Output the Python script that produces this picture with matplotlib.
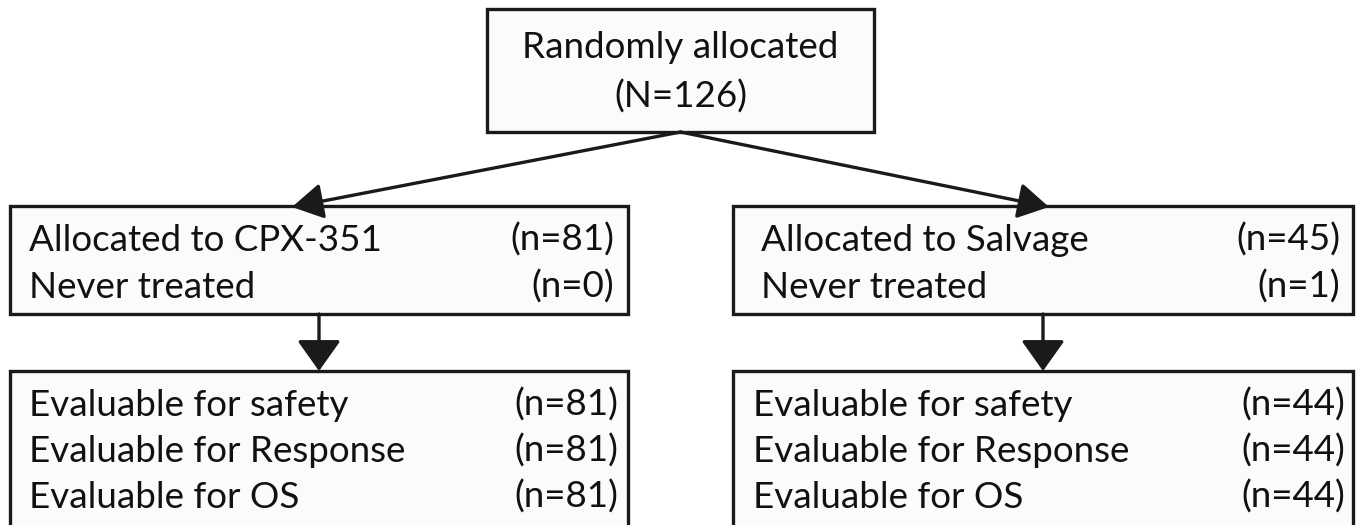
import matplotlib.pyplot as plt
from matplotlib.patches import Rectangle

# chart content
top_lines = ["Randomly allocated", "(N=126)"]
arms = ["CPX-351", "Salvage"]
allocated_n = [81, 45]
never_treated_n = [0, 1]
eval_labels = ["Evaluable for safety", "Evaluable for Response", "Evaluable for OS"]
eval_n = [[81, 81, 81], [44, 44, 44]]

# layout in pixel units (y grows downward)
W, H = 1358, 525
FONT = "Lato"
FS = 26.5
EDGE = "#1a1a1a"
FACE = "#fbfbfb"
LW = 2.4

top_box = (487, 9, 874, 132)
mid_boxes = [(10, 206, 628, 314), (733, 206, 1353, 314)]
bot_boxes = [(10, 371, 628, 560), (733, 371, 1353, 560)]
mid_text_left = [29, 761]
mid_text_right = [614, 1340]
bot_text_left = [29, 753]
bot_text_right = [618, 1345]
mid_baselines = [251, 298]
bot_baselines = [416, 462, 508]
diag_tips = [(292, 207), (1049, 207)]

fig = plt.figure(figsize=(W / 100, H / 100), dpi=100)
ax = fig.add_axes([0, 0, 1, 1])
ax.set_xlim(0, W)
ax.set_ylim(H, 0)
ax.axis("off")


def box(b):
    x0, y0, x1, y1 = b
    ax.add_patch(Rectangle((x0, y0), x1 - x0, y1 - y0, facecolor=FACE,
                           edgecolor=EDGE, lw=LW, zorder=1))


def txt(x, y, s, ha="left"):
    ax.text(x, y, s, ha=ha, va="baseline", fontsize=FS, family=FONT,
            color="#111111", zorder=3)


def arrow(start, tip, hl, hw):
    ax.annotate("", xy=tip, xytext=start, zorder=2,
                arrowprops=dict(arrowstyle=f"-|>,head_length={hl},head_width={hw}",
                                mutation_scale=10, lw=LW, color=EDGE,
                                shrinkA=0, shrinkB=0))


# top box
box(top_box)
cx = (top_box[0] + top_box[2]) / 2
txt(cx, 58, top_lines[0], ha="center")
txt(cx, 108, top_lines[1], ha="center")

for i, arm in enumerate(arms):
    # allocation box
    box(mid_boxes[i])
    txt(mid_text_left[i], mid_baselines[0], f"Allocated to {arm}")
    txt(mid_text_right[i], mid_baselines[0], f"(n={allocated_n[i]})", ha="right")
    txt(mid_text_left[i], mid_baselines[1], "Never treated")
    txt(mid_text_right[i], mid_baselines[1], f"(n={never_treated_n[i]})", ha="right")

    # evaluable box
    box(bot_boxes[i])
    for j, lab in enumerate(eval_labels):
        txt(bot_text_left[i], bot_baselines[j], lab)
        txt(bot_text_right[i], bot_baselines[j], f"(n={eval_n[i][j]})", ha="right")

    # arrows
    arrow((cx, top_box[3]), diag_tips[i], 1.9, 1.1)
    mx = (mid_boxes[i][0] + mid_boxes[i][2]) / 2
    arrow((mx, mid_boxes[i][3]), (mx, bot_boxes[i][1]), 1.9, 1.35)

fig.savefig("out.png", dpi=100)
